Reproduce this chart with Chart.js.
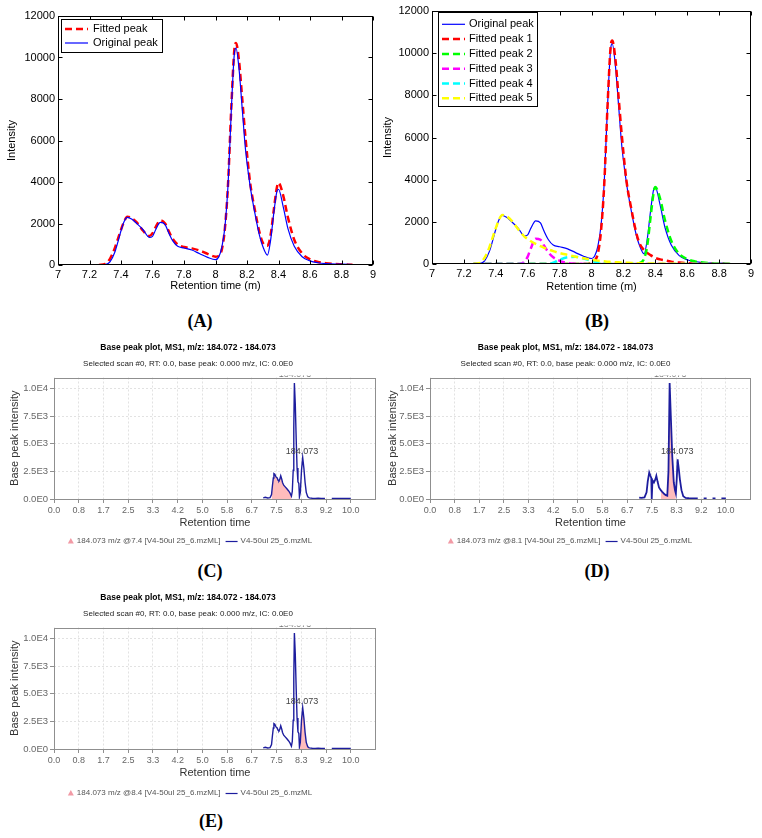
<!DOCTYPE html>
<html>
<head>
<meta charset="utf-8">
<title>Peak fitting and base peak plots</title>
<script src="https://cdn.jsdelivr.net/npm/chart.js@4.4.1/dist/chart.umd.min.js"></script>
<style>
    body { margin: 0; background: #fff; }
    #fig { position: relative; width: 762px; height: 838px; background: #fff; overflow: hidden; }
    #fig canvas { position: absolute; }
    .panel-label {
        position: absolute;
        font: bold 18px 'Liberation Serif', 'Times New Roman', serif;
        color: #000;
        transform: translate(-50%, -50%);
        white-space: nowrap;
    }
</style>
</head>
<body>
<div id="fig">
    <canvas id="chartA" width="380" height="300" style="left:0;top:0"></canvas>
    <canvas id="chartB" width="382" height="300" style="left:380px;top:0"></canvas>
    <canvas id="chartC" width="380" height="210" style="left:0;top:340px"></canvas>
    <canvas id="chartD" width="382" height="210" style="left:380px;top:340px"></canvas>
    <canvas id="chartE" width="380" height="210" style="left:0;top:590px"></canvas>

    <div class="panel-label" style="left:200px;top:321px">(A)</div>
    <div class="panel-label" style="left:597px;top:321px">(B)</div>
    <div class="panel-label" style="left:210px;top:571px">(C)</div>
    <div class="panel-label" style="left:597px;top:571px">(D)</div>
    <div class="panel-label" style="left:211px;top:821px">(E)</div>
</div>

<script>
// ============================================================
// Dados - ajuste de picos (A, B)
// ============================================================
const rt = [7.26, 7.30, 7.33, 7.36, 7.38, 7.40, 7.42, 7.44, 7.47, 7.50,
            7.54, 7.58, 7.60, 7.62, 7.65, 7.68, 7.70, 7.73, 7.76, 7.80,
            7.85, 7.90, 7.95, 8.00, 8.02, 8.04, 8.06, 8.08, 8.10, 8.12,
            8.13, 8.15, 8.17, 8.19, 8.22, 8.25, 8.28, 8.30, 8.33, 8.35,
            8.37, 8.39, 8.40, 8.43, 8.46, 8.50, 8.55, 8.60, 8.65, 8.70,
            8.80, 8.87];

const originalPeak = [0, 20, 150, 600, 1100, 1650, 2100, 2300, 2200, 2000,
                      1700, 1330, 1380, 1700, 2050, 1950, 1600, 1150, 900, 820,
                      720, 540, 370, 260, 380, 850, 1850, 3900, 7400, 10200,
                      10450, 9400, 7500, 5600, 3800, 2500, 1400, 900, 480, 1200,
                      2500, 3550, 3650, 2800, 1750, 900, 400, 200, 110, 70,
                      40, 20];

const fittedPeak = [0, 50, 300, 800, 1250, 1700, 2100, 2330, 2250, 2050,
                    1650, 1400, 1530, 1830, 2150, 2000, 1680, 1240, 990, 870,
                    800, 695, 535, 400, 440, 735, 1790, 3955, 7530, 10410,
                    10700, 9790, 7980, 6170, 3960, 2650, 1550, 1080, 930, 1450,
                    2645, 3750, 3960, 3340, 2285, 1220, 557, 275, 148, 87,
                    31, 10];

const fittedPeak1 = [0, 0, 0, 0, 0, 0, 0, 0, 0, 0,
                     0, 0, 0, 0, 0, 0, 0, 0, 0, 0,
                     0, 0, 0, 50, 150, 500, 1600, 3800, 7400, 10300,
                     10600, 9700, 7900, 6100, 3900, 2600, 1500, 1000, 650, 520,
                     420, 330, 290, 220, 170, 110, 70, 40, 25, 15,
                     5, 0];

const fittedPeak2 = [0, 0, 0, 0, 0, 0, 0, 0, 0, 0,
                     0, 0, 0, 0, 0, 0, 0, 0, 0, 0,
                     0, 0, 0, 0, 0, 0, 0, 0, 0, 0,
                     0, 0, 0, 0, 0, 0, 10, 40, 250, 900,
                     2200, 3400, 3650, 3100, 2100, 1100, 480, 230, 120, 70,
                     25, 10];

const fittedPeak3 = [0, 0, 0, 0, 0, 0, 0, 0, 0, 0,
                     0, 100, 350, 750, 1200, 1150, 900, 550, 320, 150,
                     50, 15, 5, 0, 0, 0, 0, 0, 0, 0,
                     0, 0, 0, 0, 0, 0, 0, 0, 0, 0,
                     0, 0, 0, 0, 0, 0, 0, 0, 0, 0,
                     0, 0];

const fittedPeak4 = [0, 0, 0, 0, 0, 0, 0, 0, 0, 0,
                     0, 0, 0, 0, 0, 0, 0, 0, 60, 200,
                     320, 340, 260, 150, 110, 75, 50, 30, 20, 10,
                     8, 5, 3, 0, 0, 0, 0, 0, 0, 0,
                     0, 0, 0, 0, 0, 0, 0, 0, 0, 0,
                     0, 0];

const fittedPeak5 = [0, 50, 300, 800, 1250, 1700, 2100, 2330, 2250, 2050,
                     1650, 1300, 1180, 1080, 950, 850, 780, 690, 610, 520,
                     430, 340, 270, 200, 180, 160, 140, 125, 110, 100,
                     95, 85, 78, 70, 60, 50, 42, 38, 32, 28,
                     25, 22, 20, 17, 14, 10, 7, 5, 3, 2,
                     1, 0];

const rtTicks = [7, 7.2, 7.4, 7.6, 7.8, 8, 8.2, 8.4, 8.6, 8.8, 9];
const rtTickLabels = ['7', '7.2', '7.4', '7.6', '7.8', '8', '8.2', '8.4', '8.6', '8.8', '9'];
const intensityTicks = [0, 2000, 4000, 6000, 8000, 10000, 12000];
const intensityTickLabels = ['0', '2000', '4000', '6000', '8000', '10000', '12000'];

// ============================================================
// Dados - base peak plots (C, D, E)
// ============================================================
const mzRt = [7.05, 7.12, 7.20, 7.28, 7.33, 7.36, 7.39, 7.41, 7.44, 7.48,
              7.52, 7.55, 7.58, 7.61, 7.64, 7.67, 7.70, 7.74, 7.79, 7.84,
              7.90, 7.95, 8.00, 8.03, 8.06, 8.08, 8.10, 8.13, 8.16, 8.19,
              8.22, 8.25, 8.27, 8.30, 8.34, 8.38, 8.42, 8.46, 8.50, 8.55,
              8.60, 8.70, 8.80, 8.90, 9.00, 9.13, 9.25, 9.36, 9.50, 9.70,
              9.85, 10.00];
const mzInt = [100, 150, 90, 120, 400, 1200, 1900, 2300, 2250, 2000,
               1900, 1700, 1650, 1800, 2100, 1850, 1500, 1250, 1100, 950,
               750, 550, 250, 700, 2600, 6500, 10500, 8600, 5500, 2800,
               1550, 1400, 200, 600, 2600, 3750, 2800, 1500, 600, 200,
               100, 70, 60, 80, 50, 60, null, 50, 40, 60,
               50, 60];

const mzRtD = [7.07, 7.15, 7.25, 7.32, 7.36, 7.41, 7.45, 7.48, 7.49, 7.50,
               7.52, 7.57, 7.62, 7.65, 7.69, 7.74, 7.80, 7.85, 7.92, 7.97,
               8.02, 8.06, 8.10, 8.14, 8.19, 8.24, 8.28, 8.31, 8.34, 8.37,
               8.41, 8.45, 8.50, 8.56, 8.64, 8.75, 8.90, 9.05, 9.15, 9.25,
               9.35, 9.45, 9.55, 9.65, 9.75, 9.85, 10.00];
const mzIntD = [120, 100, 150, 600, 1600, 2400, 2100, 1900, 300, 0,
                1700, 1500, 1800, 2100, 1600, 1050, 800, 650, 450, 350,
                300, 2500, 10500, 7500, 3800, 1500, 800, 500, 1800, 3600,
                2700, 1700, 800, 250, 100, 70, 60, 50, null, 60,
                50, null, 50, 60, null, 50, 60];

// picos detectados (área rosa)
const peakRtC = [7.33, 7.36, 7.39, 7.41, 7.44, 7.48, 7.52, 7.55, 7.58, 7.61,
                 7.64, 7.67, 7.70, 7.74, 7.79, 7.84, 7.90, 7.95, 8.00];
const peakIntC = [400, 1200, 1900, 2300, 2250, 2000, 1900, 1700, 1650, 1800,
                  2100, 1850, 1500, 1250, 1100, 950, 750, 550, 250];

const peakRtD = [7.80, 7.85, 7.92, 7.97, 8.02, 8.06, 8.10, 8.14, 8.19, 8.24, 8.28, 8.31];
const peakIntD = [800, 650, 450, 350, 300, 2500, 10500, 7500, 3800, 1500, 800, 500];

const peakRtE = [8.27, 8.30, 8.34, 8.38, 8.42, 8.46, 8.50, 8.55, 8.60];
const peakIntE = [200, 600, 2600, 3750, 2800, 1500, 600, 200, 100];

const mzXTicks = [0, 0.833, 1.667, 2.5, 3.333, 4.167, 5, 5.833, 6.667, 7.5, 8.333, 9.167, 10];
const mzXLabels = ['0.0', '0.8', '1.7', '2.5', '3.3', '4.2', '5.0', '5.8', '6.7', '7.5', '8.3', '9.2', '10.0'];
const mzYTicks = [0, 2500, 5000, 7500, 10000];
const mzYLabels = ['0.0E0', '2.5E3', '5.0E3', '7.5E3', '1.0E4'];

// ============================================================
// Cores e padrões
// ============================================================
const COLORS = {
    blue: '#0000ff',
    red: '#ff0000',
    green: '#00ff00',
    magenta: '#ff00ff',
    cyan: '#00ffff',
    yellow: '#ffff00',
    trace: '#1d1d9e',
    peakFill: '#ffbcbc',
    marker: '#f29aa5',
    mzGrid: '#e2e2e2',
    mzBox: '#8f8f8f',
    mzText: '#666'
};
const FONT = "'Liberation Sans', Arial, Helvetica, sans-serif";
const DASH = [7, 4];

Chart.defaults.font.family = FONT;
Chart.defaults.color = '#000';
Chart.defaults.animation = false;
Chart.defaults.events = [];
Chart.defaults.elements.point.radius = 0;
Chart.defaults.plugins.legend.display = false;
Chart.defaults.plugins.tooltip.enabled = false;

const pts = (xs, ys) => xs.map((x, i) => ({ x: x, y: ys[i] }));

// fixa a largura/altura de um eixo e remove o padding automático
function fixSize(size) {
    return function (scale) {
        if (scale.isHorizontal()) scale.height = size;
        else scale.width = size;
        scale.paddingTop = scale.paddingBottom = scale.paddingLeft = scale.paddingRight = 0;
    };
}
function fixTicks(values) {
    return function (scale) {
        scale.ticks = values.map(v => ({ value: v }));
    };
}

/**
 * Caixa estilo Matlab com ticks para dentro
 */
const matlabAxes = {
    id: 'matlabAxes',
    afterDatasetsDraw(chart) {
        const { ctx, chartArea: a, scales: { x, y } } = chart;
        const L = Math.round(a.left) + 0.5, R = Math.round(a.right) - 0.5;
        const T = Math.round(a.top) + 0.5, B = Math.round(a.bottom) - 0.5;
        ctx.save();
        ctx.strokeStyle = '#000';
        ctx.lineWidth = 1;
        ctx.strokeRect(L, T, R - L, B - T);
        ctx.beginPath();
        x.ticks.forEach(t => {
            const px = Math.round(x.getPixelForValue(t.value)) + 0.5;
            ctx.moveTo(px, B); ctx.lineTo(px, B - 4);
            ctx.moveTo(px, T); ctx.lineTo(px, T + 4);
        });
        y.ticks.forEach(t => {
            const py = Math.round(y.getPixelForValue(t.value)) + 0.5;
            ctx.moveTo(L, py); ctx.lineTo(L + 4, py);
            ctx.moveTo(R, py); ctx.lineTo(R - 4, py);
        });
        ctx.stroke();
        ctx.restore();
    }
};

/**
 * Legenda com moldura dentro da área do gráfico
 */
const boxLegend = {
    id: 'boxLegend',
    afterDraw(chart, args, o) {
        const { ctx } = chart;
        ctx.save();
        ctx.fillStyle = '#fff';
        ctx.fillRect(o.x, o.y, o.w, o.h);
        ctx.strokeStyle = '#000';
        ctx.lineWidth = 1;
        ctx.strokeRect(o.x + 0.5, o.y + 0.5, o.w, o.h);
        ctx.font = '11px ' + FONT;
        ctx.textBaseline = 'middle';
        o.items.forEach((idx, row) => {
            const ds = chart.data.datasets[idx];
            const yy = o.y + o.first + row * o.rowH;
            ctx.strokeStyle = ds.borderColor;
            ctx.lineWidth = ds.borderWidth;
            ctx.setLineDash(ds.borderDash || []);
            ctx.beginPath();
            ctx.moveTo(o.x + o.lineX0, yy);
            ctx.lineTo(o.x + o.lineX1, yy);
            ctx.stroke();
            ctx.setLineDash([]);
            ctx.fillStyle = '#000';
            ctx.fillText(ds.label, o.x + o.textX, yy);
        });
        ctx.restore();
    }
};

function fitAxes(cfg) {
    return {
        x: {
            type: 'linear', min: 7, max: 9,
            afterBuildTicks: fixTicks(rtTicks),
            afterFit: fixSize(cfg.xHeight),
            grid: { display: false, drawTicks: false },
            border: { display: false },
            ticks: { autoSkip: false, maxRotation: 0, padding: cfg.xTickPad, font: { size: 11 },
                     callback: (v, i) => rtTickLabels[i] },
            title: { display: true, text: 'Retention time (m)', font: { size: 11 },
                     padding: { top: 0, bottom: cfg.xTitlePad } }
        },
        y: {
            type: 'linear', min: 0, max: 12000,
            afterBuildTicks: fixTicks(intensityTicks),
            afterFit: fixSize(cfg.yWidth),
            grid: { display: false, drawTicks: false },
            border: { display: false },
            ticks: { padding: 3, font: { size: 11 }, callback: (v, i) => intensityTickLabels[i] },
            title: { display: true, text: 'Intensity', font: { size: 11 },
                     padding: { top: cfg.yTitlePad, bottom: 0 } }
        }
    };
}

/**
 * (A) Pico ajustado x pico original
 */
function initChartA() {
    new Chart(document.getElementById('chartA'), {
        type: 'line',
        data: {
            datasets: [
                { label: 'Fitted peak', data: pts(rt, fittedPeak), borderColor: COLORS.red,
                  borderWidth: 2.5, borderDash: DASH, cubicInterpolationMode: 'monotone', order: 1 },
                { label: 'Original peak', data: pts(rt, originalPeak), borderColor: COLORS.blue,
                  borderWidth: 1.2, cubicInterpolationMode: 'monotone', order: 0 }
            ]
        },
        options: {
            responsive: false,
            devicePixelRatio: 1,
            layout: { padding: { top: 16, right: 7, bottom: 0, left: 0 } },
            scales: fitAxes({ xHeight: 35, xTickPad: 3.4, xTitlePad: 7.4, yWidth: 58, yTitlePad: 5.4 }),
            plugins: {
                boxLegend: { x: 61, y: 19, w: 101, h: 33, first: 10, rowH: 14,
                             lineX0: 4, lineX1: 27, textX: 32, items: [0, 1] }
            }
        },
        plugins: [matlabAxes, boxLegend]
    });
}

/**
 * (B) Decomposição em 5 picos
 */
function initChartB() {
    const dashed = (label, values, color, order) => ({
        label: label, data: pts(rt, values), borderColor: color, borderWidth: 2.5,
        borderDash: DASH, cubicInterpolationMode: 'monotone', order: order
    });
    new Chart(document.getElementById('chartB'), {
        type: 'line',
        data: {
            datasets: [
                { label: 'Original peak', data: pts(rt, originalPeak), borderColor: COLORS.blue,
                  borderWidth: 1.2, cubicInterpolationMode: 'monotone', order: 6 },
                dashed('Fitted peak 1', fittedPeak1, COLORS.red, 5),
                dashed('Fitted peak 2', fittedPeak2, COLORS.green, 4),
                dashed('Fitted peak 3', fittedPeak3, COLORS.magenta, 3),
                dashed('Fitted peak 4', fittedPeak4, COLORS.cyan, 2),
                dashed('Fitted peak 5', fittedPeak5, COLORS.yellow, 1)
            ]
        },
        options: {
            responsive: false,
            devicePixelRatio: 1,
            layout: { padding: { top: 11, right: 11, bottom: 0, left: 0 } },
            scales: fitAxes({ xHeight: 36, xTickPad: 3.4, xTitlePad: 6.7, yWidth: 52, yTitlePad: 1 }),
            plugins: {
                boxLegend: { x: 58, y: 12, w: 99, h: 94, first: 12.3, rowH: 14.8,
                             lineX0: 4, lineX1: 27, textX: 31, items: [0, 1, 2, 3, 4, 5] }
            }
        },
        plugins: [matlabAxes, boxLegend]
    });
}

/**
 * Moldura, rótulos de pico e legenda dos base peak plots
 */
const mzDecor = {
    id: 'mzDecor',
    afterDraw(chart, args, o) {
        const { ctx, chartArea: a, scales: { x, y } } = chart;
        ctx.save();
        ctx.strokeStyle = COLORS.mzBox;
        ctx.lineWidth = 1;
        ctx.strokeRect(Math.round(a.left) + 0.5, Math.round(a.top) + 0.5,
                       Math.round(a.width) - 1, Math.round(a.height) - 1);

        ctx.font = '9px ' + FONT;
        ctx.fillStyle = '#444';
        ctx.textAlign = 'center';
        ctx.textBaseline = 'middle';
        ctx.fillText(o.peakText, x.getPixelForValue(o.labelAt[0]), y.getPixelForValue(o.labelAt[1]));

        // rótulo do pico maior, cortado na borda superior
        ctx.save();
        ctx.beginPath();
        ctx.rect(a.left, a.top - 2, a.width, 2);
        ctx.clip();
        ctx.fillStyle = '#777';
        ctx.textBaseline = 'bottom';
        ctx.fillText(o.peakText, x.getPixelForValue(o.topAt), a.top + 2);
        ctx.restore();

        // legenda
        const [trace, peak] = chart.data.datasets;
        ctx.font = '8px ' + FONT;
        ctx.textAlign = 'left';
        const w1 = ctx.measureText(peak.label).width;
        const w2 = ctx.measureText(trace.label).width;
        const total = 6 + 3 + w1 + 5 + 12 + 3 + w2;
        let lx = o.legendX - total / 2;
        const ly = o.legendY;
        ctx.fillStyle = COLORS.marker;
        ctx.beginPath();
        ctx.moveTo(lx + 3, ly - 3);
        ctx.lineTo(lx + 6, ly + 2.5);
        ctx.lineTo(lx, ly + 2.5);
        ctx.closePath();
        ctx.fill();
        lx += 9;
        ctx.fillStyle = '#555';
        ctx.fillText(peak.label, lx, ly);
        lx += w1 + 5;
        ctx.strokeStyle = trace.borderColor;
        ctx.lineWidth = 1.2;
        ctx.beginPath();
        ctx.moveTo(lx, ly + 0.5);
        ctx.lineTo(lx + 12, ly + 0.5);
        ctx.stroke();
        lx += 15;
        ctx.fillText(trace.label, lx, ly);
        ctx.restore();
    }
};

function initBasePeakChart(id, cfg) {
    new Chart(document.getElementById(id), {
        type: 'line',
        data: {
            datasets: [
                { label: 'V4-50ul 25_6.mzML', data: pts(cfg.rt, cfg.intensity),
                  borderColor: COLORS.trace, borderWidth: cfg.lineWidth, tension: 0, order: 0 },
                { label: cfg.peakLabel, data: pts(cfg.peakRt, cfg.peakInt),
                  borderColor: 'transparent', borderWidth: 0, backgroundColor: COLORS.peakFill,
                  fill: 'origin', tension: 0, order: 1 }
            ]
        },
        options: {
            responsive: false,
            devicePixelRatio: 1,
            layout: { padding: { top: 0, right: cfg.rightPad, bottom: 0, left: 0 } },
            scales: {
                x: {
                    type: 'linear', min: 0, max: 10.85,
                    afterBuildTicks: fixTicks(mzXTicks),
                    afterFit: fixSize(51),
                    grid: { color: COLORS.mzGrid, tickColor: COLORS.mzBox, tickLength: 4 },
                    border: { display: false, dash: [2, 2] },
                    ticks: { autoSkip: false, maxRotation: 0, padding: 2.6, color: COLORS.mzText,
                             font: { size: 9 }, callback: (v, i) => mzXLabels[i] },
                    title: { display: true, text: 'Retention time', color: '#333', font: { size: 11 },
                             padding: { top: 0, bottom: 20.4 } }
                },
                y: {
                    type: 'linear', min: 0, max: 11000,
                    afterBuildTicks: fixTicks(mzYTicks),
                    afterFit: fixSize(cfg.yWidth),
                    grid: { color: COLORS.mzGrid, tickColor: COLORS.mzBox, tickLength: 4 },
                    border: { display: false, dash: [2, 2] },
                    ticks: { padding: 2, color: COLORS.mzText, font: { size: 9.5 },
                             callback: (v, i) => mzYLabels[i] },
                    title: { display: true, text: 'Base peak intensity', color: '#333', font: { size: 11 },
                             padding: { top: cfg.yTitlePad, bottom: 0 } }
                }
            },
            plugins: {
                title: { display: true, text: 'Base peak plot, MS1, m/z: 184.072 - 184.073',
                         font: { size: 8.5, weight: 'bold' }, color: '#000', padding: { top: 3, bottom: 3 } },
                subtitle: { display: true, text: 'Selected scan #0, RT: 0.0, base peak: 0.000 m/z, IC: 0.0E0',
                            font: { size: 8 }, color: '#222', padding: { top: 3, bottom: 8.7 } },
                mzDecor: { peakText: '184.073', labelAt: [8.36, 4300], topAt: 8.12,
                           legendX: 190, legendY: cfg.legendY }
            }
        },
        plugins: [mzDecor]
    });
}

function initializeCharts() {
    initChartA();
    initChartB();
    initBasePeakChart('chartC', { rt: mzRt, intensity: mzInt, peakRt: peakRtC, peakInt: peakIntC,
        peakLabel: '184.073 m/z @7.4 [V4-50ul 25_6.mzML]', lineWidth: 1.4,
        yWidth: 54, yTitlePad: 8.4, rightPad: 4, legendY: 201 });
    initBasePeakChart('chartD', { rt: mzRtD, intensity: mzIntD, peakRt: peakRtD, peakInt: peakIntD,
        peakLabel: '184.073 m/z @8.1 [V4-50ul 25_6.mzML]', lineWidth: 1.8,
        yWidth: 50, yTitlePad: 6, rightPad: 11, legendY: 201 });
    initBasePeakChart('chartE', { rt: mzRt, intensity: mzInt, peakRt: peakRtE, peakInt: peakIntE,
        peakLabel: '184.073 m/z @8.4 [V4-50ul 25_6.mzML]', lineWidth: 1.4,
        yWidth: 54, yTitlePad: 8.4, rightPad: 4, legendY: 203 });
}

initializeCharts();
</script>
</body>
</html>
